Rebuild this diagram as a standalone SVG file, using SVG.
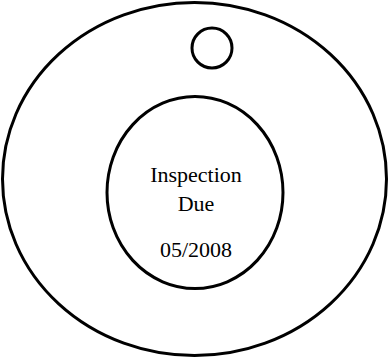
<svg xmlns="http://www.w3.org/2000/svg" width="389" height="358" viewBox="0 0 389 358">
<style>
.ring{fill:none;stroke:#000;stroke-width:3}
.lbl{font-family:"Liberation Serif","Times New Roman",serif;font-size:22px;fill:#000;text-anchor:middle}
</style>
<rect width="389" height="358" fill="#fff"/>
<g id="outer"><ellipse class="ring" cx="194.5" cy="179" rx="192" ry="176.5"/></g>
<g id="hole"><circle class="ring" cx="212" cy="48" r="20" stroke-width="2.5"/></g>
<g id="inner">
<ellipse class="ring" cx="195" cy="192.5" rx="88" ry="96"/>
<line x1="104" y1="266" x2="109" y2="270" stroke="#fff" stroke-width="2"/>
<text class="lbl" x="196" y="182">Inspection</text>
<text class="lbl" x="196" y="211">Due</text>
<text class="lbl" x="196" y="257">05/2008</text>
</g>
<g id="connectors"/>
</svg>
